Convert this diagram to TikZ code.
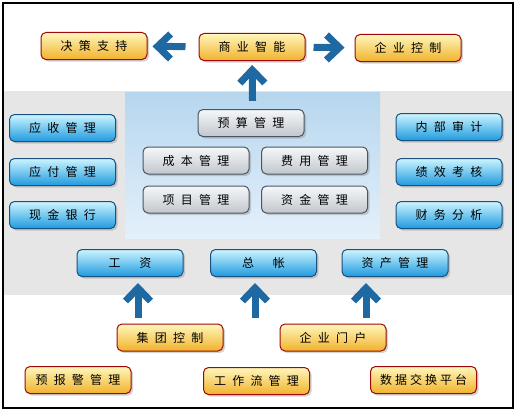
\documentclass[tikz,border=0pt]{standalone}
\usepackage{fontspec}
\newfontfamily\cjk[WordSpace=2.3]{Noto Sans CJK SC}
\newcommand\narrowsp{\spaceskip=3pt\relax}
\usetikzlibrary{arrows.meta,positioning,shadows}
\definecolor{yeltop}{HTML}{FFF7BC}
\definecolor{yelbot}{HTML}{F1B22C}
\definecolor{yelline}{HTML}{A00808}
\definecolor{bluetop}{HTML}{CDF5FF}
\definecolor{bluebot}{HTML}{1E9ADF}
\definecolor{blueline}{HTML}{1B4F7E}
\definecolor{graytop}{HTML}{F6F8FA}
\definecolor{graybot}{HTML}{C2C7CD}
\definecolor{grayline}{HTML}{4A5663}
\definecolor{paneltop}{HTML}{B6D6EE}
\definecolor{panelbot}{HTML}{E4F0FA}
\definecolor{band}{HTML}{E6E6E6}
\definecolor{arrowblue}{HTML}{1F69A3}
\tikzset{
    %Define standard arrow tip
    >={Straight Barb[length=13pt,width=25pt]},
    %Define style for boxes
    yellowbox/.style={
           rectangle,
           rounded corners=5pt,
           draw=yelline, line width=1pt,
           top color=yeltop, bottom color=yelbot,
           minimum width=106pt,
           minimum height=27pt,
           font=\cjk\fontsize{12}{12}\selectfont,
           text centered,
           drop shadow={shadow xshift=2pt,shadow yshift=-2pt,opacity=.35}},
    bluebox/.style={
           yellowbox,
           draw=blueline,
           top color=bluetop, bottom color=bluebot},
    graybox/.style={
           yellowbox,
           draw=grayline,
           top color=graytop, bottom color=graybot},
    % Define arrow style
    bigarrow/.style={
           ->,
           draw=arrowblue,
           line width=7pt}
}
\begin{document}
\begin{tikzpicture}[x=1pt,y=-1pt]
\useasboundingbox (0,0) rectangle (518,412);
% background
\fill[band] (3,91) rectangle (513,295);
\node[rectangle, minimum width=255pt, minimum height=146pt, inner sep=0pt,
      top color=paneltop, bottom color=panelbot] (panel) at (252.5,165) {};
\draw[line width=1.2pt] (3,3) rectangle (513,408);
%nodes
\node[yellowbox] (bi) at (252,47) {商 业 智 能};
\node[yellowbox] (ds) at (94,46) {决 策 支 持};
\node[yellowbox] (ec) at (408,48) {企 业 控 制};
\node[bluebox] (ys) at (62.5,128) {应 收 管 理};
\node[bluebox, below=16pt of ys] (yf) {应 付 管 理};
\node[bluebox, below=15pt of yf] (xj) {现 金 银 行};
\node[bluebox] (nb) at (449,127) {内 部 审 计};
\node[bluebox, below=17pt of nb] (jx) {绩 效 考 核};
\node[bluebox, below=15pt of jx] (cw) {财 务 分 析};
\node[bluebox] (gz) at (130,263) {工 \ \ 资};
\node[bluebox] (zz) at (263.5,263) {总 \ \ 帐};
\node[bluebox] (zc) at (395,263) {资 产 管 理};
\node[graybox] (ysgl) at (251,123) {预 算 管 理};
\node[graybox] (cb) at (196,160.5) {成 本 管 理};
\node[graybox] (fy) at (314.5,160.5) {费 用 管 理};
\node[graybox, below=11pt of cb] (xm) {项 目 管 理};
\node[graybox, below=11pt of fy] (zj) {资 金 管 理};
\node[yellowbox] (jt) at (170,337.5) {集 团 控 制};
\node[yellowbox] (qm) at (333,337.5) {企 业 门 户};
\node[yellowbox] (yb) at (78,380) {预 报 警 管 理};
\node[yellowbox] (gzl) at (256.5,381) {工 作 流 管 理};
\node[yellowbox, font=\cjk\fontsize{12}{12}\selectfont\narrowsp]
    (sj) at (423.5,380) {数 据 交 换 平 台};
\coordinate (in1) at (138,318);
\coordinate (in2) at (255,318);
\coordinate (in3) at (366,318);
\path[every edge/.style={bigarrow}]
    (bi) edge[shorten <=13pt, shorten >=5pt] (ds)
    (bi) edge[shorten <=8pt, shorten >=10pt] (ec)
    ([yshift=-9pt]panel.north) edge[shorten >=4pt] (bi)
    (in1) edge[shorten >=6pt] (in1 |- gz.south)
    (in2) edge[shorten >=6pt] (in2 |- zz.south)
    (in3) edge[shorten >=6pt] (in3 |- zc.south);
\end{tikzpicture}
\end{document}
